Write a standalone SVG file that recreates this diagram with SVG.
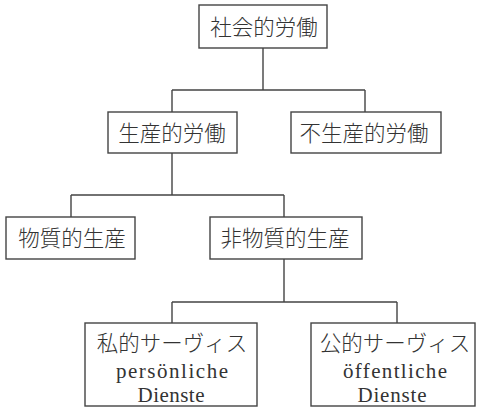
<svg xmlns="http://www.w3.org/2000/svg" width="477" height="410" viewBox="0 0 477 410">
<style>
rect{fill:#fff;stroke:#444;stroke-width:1.4}
.c{stroke:#444;stroke-width:1.4;fill:none}
.j{font-family:"Noto Sans CJK JP","Noto Sans CJK SC",sans-serif;font-weight:300;font-size:21.5px;fill:#333;text-anchor:middle}
.l{font-family:"Liberation Serif",serif;font-size:21px;fill:#333;text-anchor:middle}
</style>
<rect x="0" y="0" width="477" height="410" style="stroke:none"/>
<g id="connectors">
<path class="c" d="M263 48V90M172 90H365M172 90V112M365 90V112"/>
<path class="c" d="M172 153V195M71 195H284M71 195V217M284 195V217"/>
<path class="c" d="M284 259V302M172 302H397M172 302V323M397 302V323"/>
</g>
<g id="n1"><rect x="199" y="5" width="128" height="43"/><text class="j" x="264" y="34.5">社会的労働</text></g>
<g id="n2"><rect x="108" y="112" width="129" height="41"/><text class="j" x="172" y="140.5">生産的労働</text></g>
<g id="n3"><rect x="291" y="112" width="150" height="41"/><text class="j" x="364" y="140.5">不生産的労働</text></g>
<g id="n4"><rect x="6" y="217" width="129" height="42"/><text class="j" x="72" y="246">物質的生産</text></g>
<g id="n5"><rect x="210" y="217" width="152" height="42"/><text class="j" x="285" y="246">非物質的生産</text></g>
<g id="n6"><rect x="85" y="323" width="172" height="83"/>
<text class="j" x="172" y="351">私的サーヴィス</text>
<text class="l" x="172" y="378" textLength="112" lengthAdjust="spacing">persönliche</text>
<text class="l" x="171" y="402" textLength="67" lengthAdjust="spacing">Dienste</text></g>
<g id="n7"><rect x="311" y="323" width="164" height="83"/>
<text class="j" x="395" y="351">公的サーヴィス</text>
<text class="l" x="395" y="378" textLength="104" lengthAdjust="spacing">öffentliche</text>
<text class="l" x="392" y="402" textLength="69" lengthAdjust="spacing">Dienste</text></g>
</svg>
